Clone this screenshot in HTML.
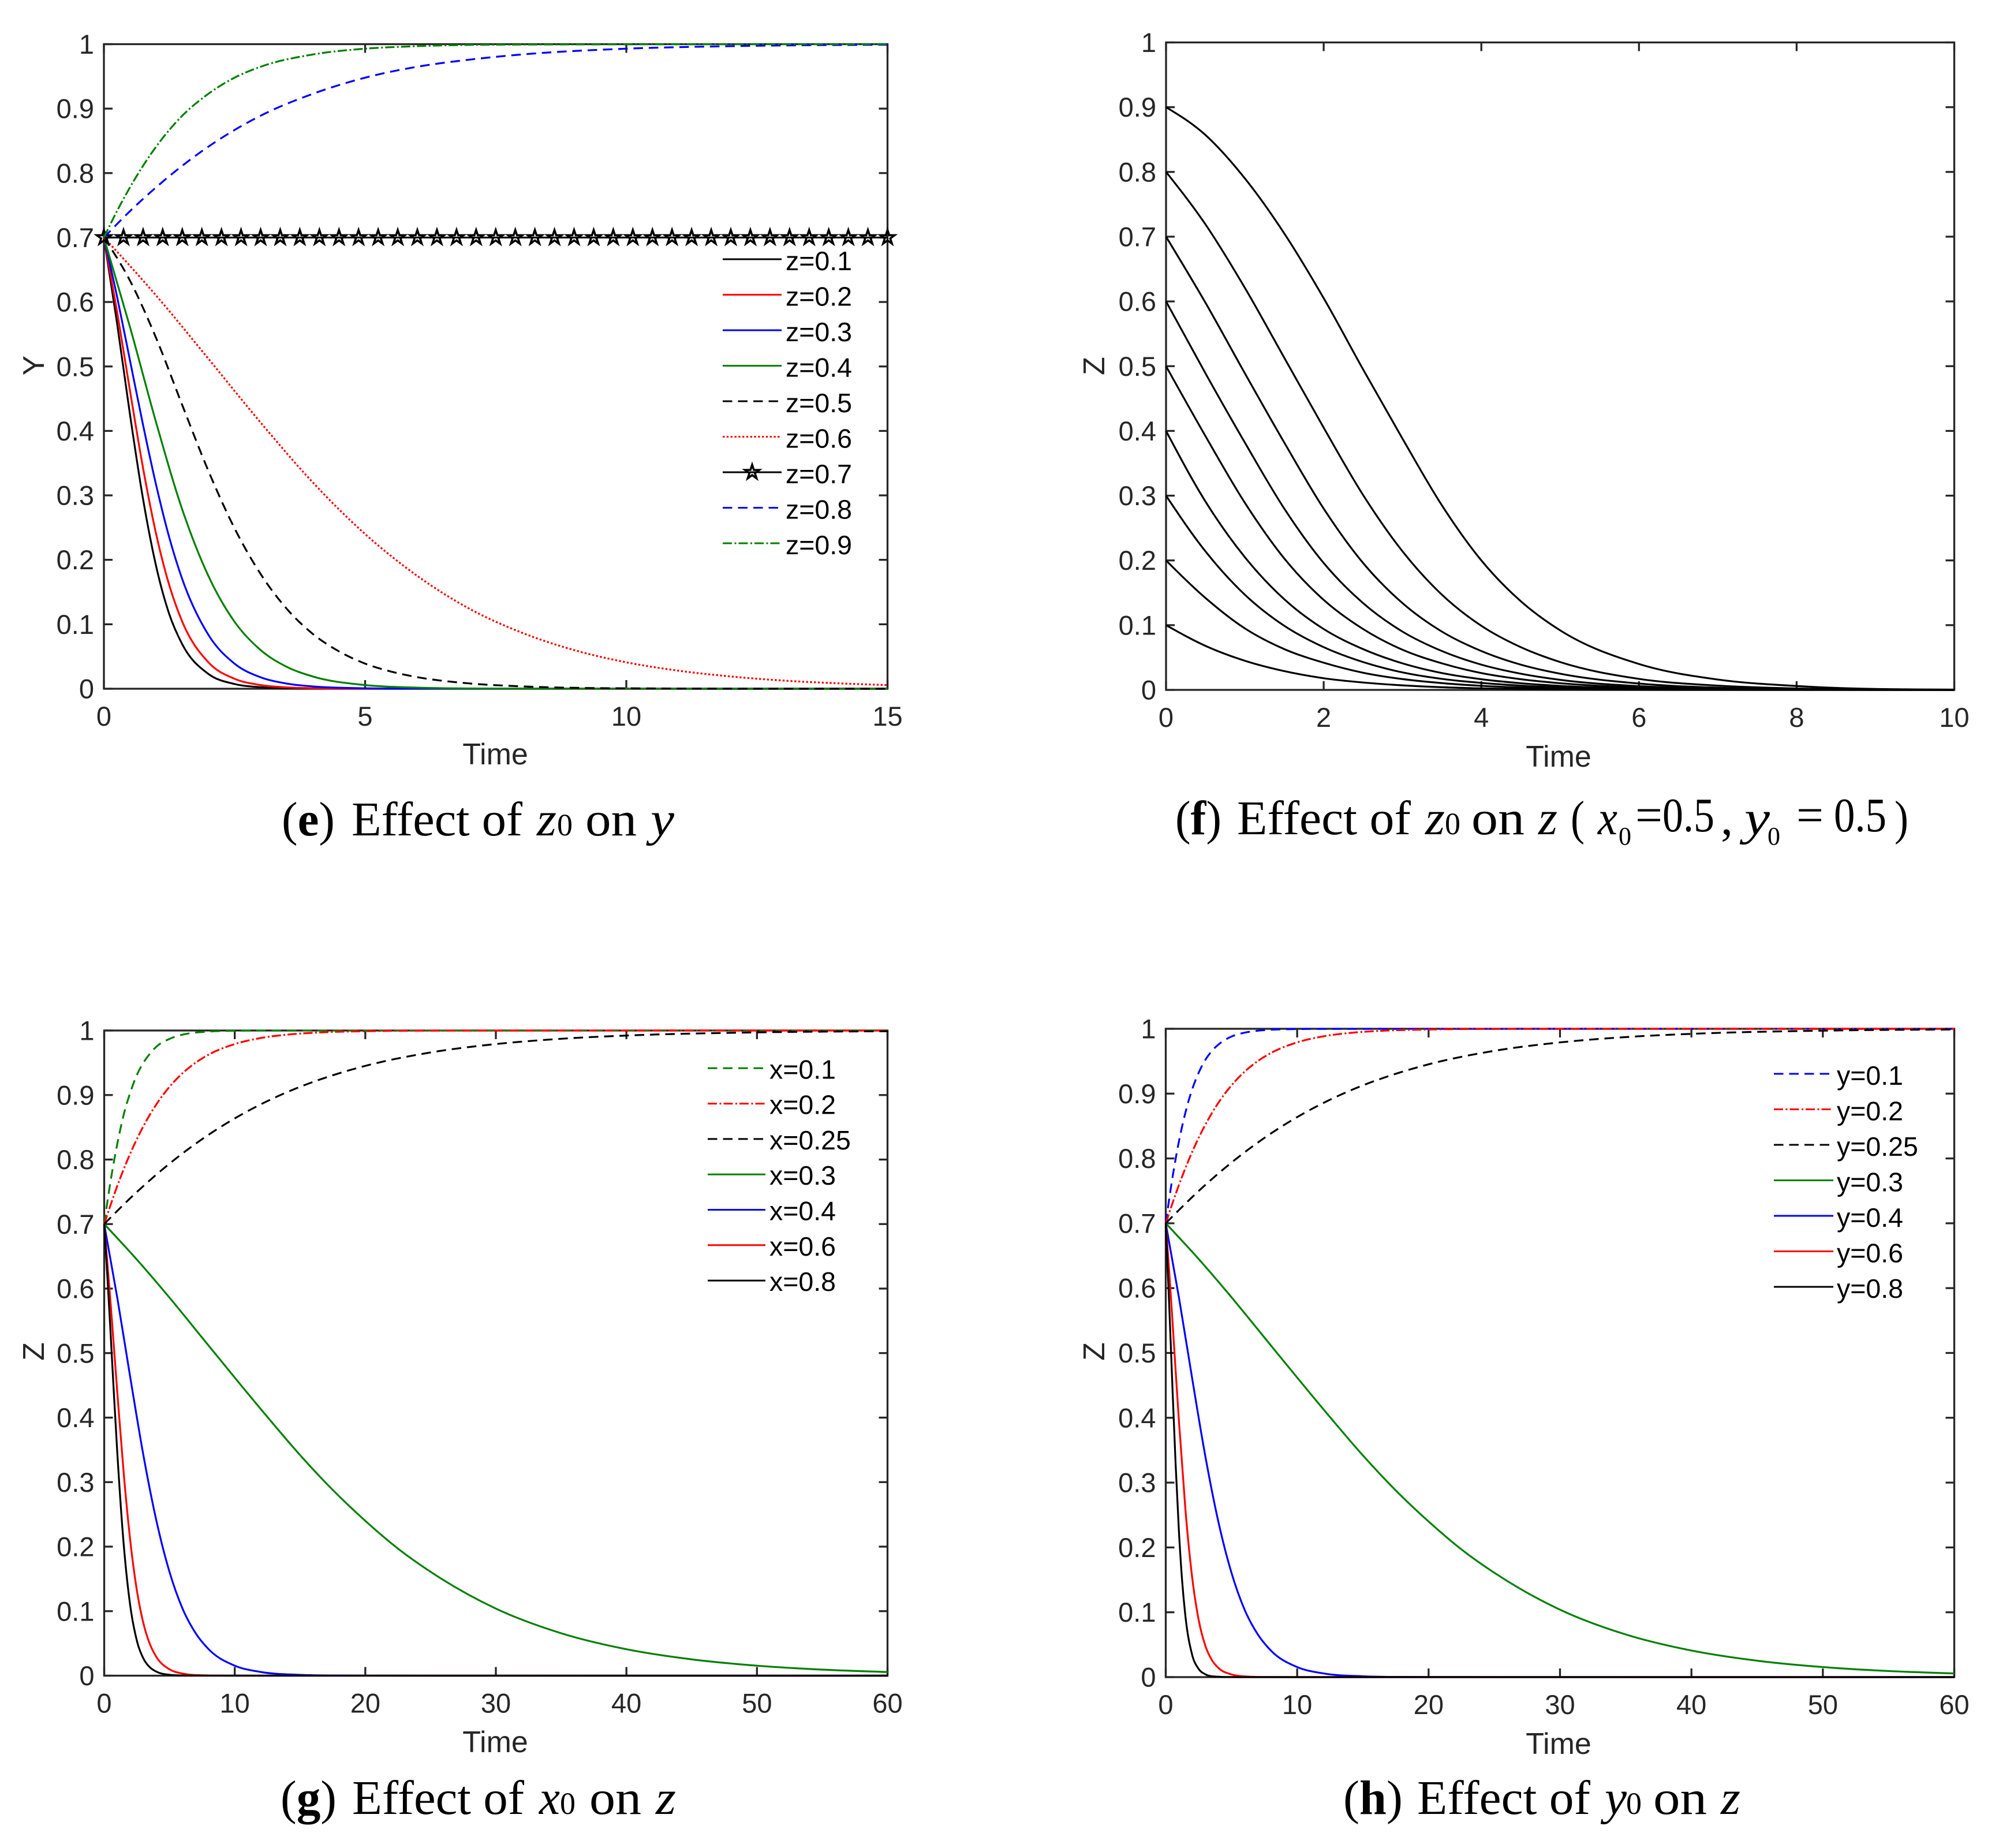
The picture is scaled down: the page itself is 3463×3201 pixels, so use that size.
<!DOCTYPE html>
<html lang="en">
<head>
<meta charset="utf-8">
<title>Effect of initial values on evolution curves</title>
<style>
html,body{margin:0;padding:0;background:#fff;}
svg{display:block;}
text{font-family:"Liberation Sans",Arial,sans-serif;}
.cap text{font-family:"Liberation Serif","Times New Roman",serif;font-size:84px;fill:#000;}
.cap .it{font-style:italic;}
.cap .b{font-weight:bold;}
.cap .s{font-size:54px;}
</style>
</head>
<body>
<svg id="fig" xmlns="http://www.w3.org/2000/svg" width="3463" height="3201" viewBox="0 0 3463 3201">
<rect width="3463" height="3201" fill="#fff"/>
<g class="cap">
<text x="488" y="1447" textLength="92" lengthAdjust="spacingAndGlyphs">(<tspan class="b">e</tspan>)</text>
<text x="609" y="1447" textLength="296" lengthAdjust="spacingAndGlyphs">Effect of</text>
<text x="930" y="1447" class="it" textLength="34" lengthAdjust="spacingAndGlyphs">z</text>
<text x="965" y="1447" class="s">0</text>
<text x="1014" y="1447" textLength="89" lengthAdjust="spacingAndGlyphs">on</text>
<text x="1127" y="1447" class="it" textLength="41" lengthAdjust="spacingAndGlyphs">y</text>
</g>
<g class="cap">
<text x="2036" y="1445" textLength="80" lengthAdjust="spacingAndGlyphs">(<tspan class="b">f</tspan>)</text>
<text x="2143" y="1445" textLength="301" lengthAdjust="spacingAndGlyphs">Effect of</text>
<text x="2469" y="1445" class="it" textLength="34" lengthAdjust="spacingAndGlyphs">z</text>
<text x="2503" y="1445" class="s">0</text>
<text x="2549" y="1445" textLength="92" lengthAdjust="spacingAndGlyphs">on</text>
<text x="2665" y="1445" class="it" textLength="33" lengthAdjust="spacingAndGlyphs">z</text>
<text x="2721" y="1445" textLength="24" lengthAdjust="spacingAndGlyphs">(</text>
<text x="2768" y="1445" class="it" textLength="34" lengthAdjust="spacingAndGlyphs">x</text>
<text x="2804" y="1463" style="font-size:44px">0</text>
<text x="2833" y="1440" textLength="47" lengthAdjust="spacingAndGlyphs">=</text>
<text x="2880" y="1440" textLength="90" lengthAdjust="spacingAndGlyphs">0.5</text>
<text x="2981" y="1445">,</text>
<text x="3022" y="1445" class="it" textLength="44" lengthAdjust="spacingAndGlyphs">y</text>
<text x="3062" y="1463" style="font-size:44px">0</text>
<text x="3112" y="1440" textLength="47" lengthAdjust="spacingAndGlyphs">=</text>
<text x="3177" y="1440" textLength="91" lengthAdjust="spacingAndGlyphs">0.5</text>
<text x="3282" y="1445" textLength="24" lengthAdjust="spacingAndGlyphs">)</text>
</g>
<g class="cap">
<text x="486" y="3142" textLength="97" lengthAdjust="spacingAndGlyphs">(<tspan class="b">g</tspan>)</text>
<text x="610" y="3142" textLength="298" lengthAdjust="spacingAndGlyphs">Effect of</text>
<text x="934" y="3142" class="it" textLength="36" lengthAdjust="spacingAndGlyphs">x</text>
<text x="970" y="3142" class="s">0</text>
<text x="1021" y="3142" textLength="90" lengthAdjust="spacingAndGlyphs">on</text>
<text x="1136" y="3142" class="it" textLength="35" lengthAdjust="spacingAndGlyphs">z</text>
</g>
<g class="cap">
<text x="2327" y="3142" textLength="103" lengthAdjust="spacingAndGlyphs">(<tspan class="b">h</tspan>)</text>
<text x="2455" y="3142" textLength="300" lengthAdjust="spacingAndGlyphs">Effect of</text>
<text x="2780" y="3142" class="it" textLength="38" lengthAdjust="spacingAndGlyphs">y</text>
<text x="2817" y="3142" class="s">0</text>
<text x="2864" y="3142" textLength="93" lengthAdjust="spacingAndGlyphs">on</text>
<text x="2981" y="3142" class="it" textLength="34" lengthAdjust="spacingAndGlyphs">z</text>
</g>
</svg>
<script>
// ---------- shared tick data ----------
const yTickValues = [0,0.1,0.2,0.3,0.4,0.5,0.6,0.7,0.8,0.9,1];
const yTickLabels = ["0","0.1","0.2","0.3","0.4","0.5","0.6","0.7","0.8","0.9","1"];
const xTicksE = [0,5,10,15];
const xTicksF = [0,2,4,6,8,10];
const xTicksG = [0,10,20,30,40,50,60];
const xTicksH = [0,10,20,30,40,50,60];

// ---------- panel e : effect of z0 on y ----------
const eTimeZ1 = [0,0.25,0.5,0.75,1,1.25,1.5,2,2.5,3,3.5,4,5,15];
const eValZ1  = [0.7,0.568,0.425,0.294,0.19,0.116,0.069,0.023,0.0074,0.0024,0.0008,0.00025,0,0];
const eTimeZ2 = [0,0.25,0.5,0.75,1,1.25,1.5,2,2.5,3,3.5,4,5,15];
const eValZ2  = [0.7,0.586,0.462,0.342,0.24,0.161,0.104,0.041,0.0155,0.0057,0.0021,0.0008,0.0001,0];
const eTimeZ3 = [0,0.25,0.5,0.75,1,1.25,1.5,2,2.5,3,3.5,4,5,6,15];
const eValZ3  = [0.7,0.609,0.509,0.409,0.316,0.235,0.17,0.0837,0.039,0.0178,0.008,0.0036,0.0007,0.0001,0];
const eTimeZ4 = [0,0.5,1,1.5,2,2.5,3,3.5,4,5,6,7,8,15];
const eValZ4  = [0.7,0.561,0.413,0.278,0.175,0.104,0.06,0.034,0.019,0.0057,0.0017,0.0005,0.0002,0];
const eTimeZ5 = [0,0.5,1,1.5,2,2.5,3,3.5,4,4.5,5,5.5,6,7,8,10,15];
const eValZ5  = [0.7,0.633,0.544,0.44,0.338,0.249,0.178,0.124,0.085,0.058,0.039,0.0266,0.018,0.0082,0.0037,0.0007,0];
const eTimeZ6 = [0,0.5,1,2,3,4,5,6,7,8,9,10,11,12,13,14,15];
const eValZ6  = [0.7,0.656,0.61,0.512,0.413,0.32,0.24,0.175,0.124,0.087,0.06,0.041,0.028,0.019,0.0127,0.0086,0.0057];
const eTimeZ7 = [0,0.375,0.75,1.125,1.5,1.875,2.25,2.625,3,3.375,3.75,4.125,4.5,4.875,5.25,5.625,6,6.375,6.75,7.125,7.5,7.875,8.25,8.625,9,9.375,9.75,10.125,10.5,10.875,11.25,11.625,12,12.375,12.75,13.125,13.5,13.875,14.25,14.625,15];
const eValZ7  = [0.7,0.7,0.7,0.7,0.7,0.7,0.7,0.7,0.7,0.7,0.7,0.7,0.7,0.7,0.7,0.7,0.7,0.7,0.7,0.7,0.7,0.7,0.7,0.7,0.7,0.7,0.7,0.7,0.7,0.7,0.7,0.7,0.7,0.7,0.7,0.7,0.7,0.7,0.7,0.7,0.7];
const eTimeZ8 = [0,0.5,1,2,3,4,5,6,7,8,10,12,15];
const eValZ8  = [0.7,0.741,0.778,0.841,0.889,0.923,0.948,0.965,0.976,0.984,0.993,0.9969,0.9991];
const eTimeZ9 = [0,0.25,0.5,1,1.5,2,2.5,3,4,5,6,8,15];
const eValZ9  = [0.7,0.741,0.778,0.841,0.889,0.923,0.948,0.965,0.984,0.993,0.9969,0.9994,1];
const legendLabelsE = ["z=0.1","z=0.2","z=0.3","z=0.4","z=0.5","z=0.6","z=0.7","z=0.8","z=0.9"];

// ---------- panel f : effect of z0 on z ----------
const fTime = [0,0.5,1,1.5,2,2.5,3,3.5,4,4.5,5,6,7,8,10];
const fValZ9 = [0.9,0.857,0.79,0.705,0.605,0.495,0.388,0.285,0.2,0.137,0.092,0.04,0.016,0.006,0.0005];
const fValZ8 = [0.8,0.719,0.621,0.513,0.405,0.301,0.214,0.147,0.099,0.066,0.043,0.017,0.0066,0.0022,0.0001];
const fValZ7 = [0.7,0.598,0.489,0.382,0.28,0.196,0.134,0.09,0.06,0.039,0.025,0.0098,0.0034,0.001,0];
const fValZ6 = [0.6,0.489,0.382,0.28,0.196,0.134,0.09,0.06,0.039,0.025,0.0155,0.0058,0.0019,0.0005,0];
const fValZ5 = [0.5,0.392,0.289,0.203,0.139,0.094,0.062,0.041,0.026,0.0165,0.0103,0.0036,0.0012,0.0003,0];
const fValZ4 = [0.4,0.291,0.205,0.14,0.094,0.063,0.041,0.026,0.0165,0.0103,0.0062,0.0021,0.0007,0.0002,0];
const fValZ3 = [0.3,0.214,0.147,0.099,0.066,0.043,0.027,0.017,0.0108,0.0066,0.0039,0.0012,0.0004,0.0001,0];
const fValZ2 = [0.2,0.142,0.095,0.063,0.042,0.0265,0.0167,0.0105,0.0063,0.0037,0.0021,0.0006,0.0001,0,0];
const fValZ1 = [0.1,0.068,0.045,0.029,0.018,0.0114,0.007,0.0041,0.0024,0.0013,0.0007,0.0001,0,0,0];

// ---------- panel g : effect of x0 on z ----------
const gTimeX1 = [0,0.5,1,1.5,2,2.5,3,3.5,4,5,6,7,8,10,12,60];
const gValX1  = [0.7,0.768,0.824,0.87,0.904,0.931,0.95,0.964,0.975,0.987,0.9936,0.9968,0.9984,0.9996,0.9999,1];
const gTimeX2 = [0,1,2,3,4,5,6,7,8,10,12,14,17,20,25,60];
const gValX2  = [0.7,0.759,0.8096,0.8516,0.8857,0.9127,0.9338,0.9501,0.9626,0.979,0.9884,0.9936,0.9974,0.9989,0.9998,1];
const gTimeX25 = [0,2.5,5,7.5,10,12.5,15,17.5,20,25,30,35,40,50,60];
const gValX25  = [0.7,0.7497,0.7936,0.8316,0.8638,0.8906,0.9127,0.9306,0.9452,0.966,0.979,0.9872,0.9922,0.9971,0.9989];
const gTimeX3 = [0,2.5,5,7.5,10,12.5,15,17.5,20,22.5,25,30,35,40,45,50,55,60];
const gValX3  = [0.7,0.645,0.586,0.524,0.462,0.401,0.342,0.288,0.24,0.197,0.161,0.104,0.0658,0.041,0.0253,0.0155,0.0094,0.0057];
const gTimeX4 = [0,1,2,3,4,5,6,7,8,10,12,15,18,20,60];
const gValX4  = [0.7,0.586,0.462,0.342,0.24,0.161,0.104,0.066,0.041,0.0155,0.0057,0.0013,0.0003,0.0001,0];
const gTimeX6 = [0,0.5,1,1.5,2,2.5,3,3.5,4,5,6,8,10,60];
const gValX6  = [0.7,0.575,0.44,0.3126,0.2087,0.1327,0.0814,0.0489,0.0289,0.0099,0.0033,0.0004,0,0];
const gTimeX8 = [0,0.25,0.5,0.75,1,1.5,2,2.5,3,3.5,4,5,6,7,60];
const gValX8  = [0.7,0.617,0.527,0.4346,0.3468,0.2021,0.1078,0.0545,0.0268,0.013,0.0062,0.0014,0.0003,0.0001,0];
const legendLabelsG = ["x=0.1","x=0.2","x=0.25","x=0.3","x=0.4","x=0.6","x=0.8"];

// ---------- panel h : effect of y0 on z ----------
const hTimeY1 = [0,0.5,1,1.5,2,2.5,3,3.5,4,5,6,7,8,10,12,60];
const hValY1  = [0.7,0.769,0.826,0.871,0.906,0.932,0.9516,0.9655,0.9756,0.988,0.994,0.997,0.9985,0.9996,0.9999,1];
const hTimeY2 = [0,1,2,3,4,5,6,7,8,10,12,14,17,20,25,60];
const hValY2  = [0.7,0.759,0.8096,0.8516,0.8857,0.9127,0.9338,0.9501,0.9626,0.979,0.9884,0.9936,0.9974,0.9989,0.9998,1];
const hTimeY25 = [0,2.5,5,7.5,10,12.5,15,17.5,20,25,30,35,40,50,60];
const hValY25  = [0.7,0.7497,0.7936,0.8316,0.8638,0.8906,0.9127,0.9306,0.9452,0.966,0.979,0.9872,0.9922,0.9971,0.9989];
const hTimeY3 = [0,2.5,5,7.5,10,12.5,15,17.5,20,22.5,25,30,35,40,45,50,55,60];
const hValY3  = [0.7,0.645,0.586,0.524,0.462,0.401,0.342,0.288,0.24,0.197,0.161,0.104,0.0658,0.041,0.0253,0.0155,0.0094,0.0057];
const hTimeY4 = [0,1,2,3,4,5,6,7,8,10,12,15,18,20,60];
const hValY4  = [0.7,0.586,0.462,0.342,0.24,0.161,0.104,0.066,0.041,0.0155,0.0057,0.0013,0.0003,0.0001,0];
const hTimeY6 = [0,0.25,0.5,0.75,1,1.5,2,2.5,3,3.5,4,5,6,8,10,60];
const hValY6  = [0.7,0.6295,0.5528,0.4735,0.3958,0.2577,0.1554,0.0888,0.0491,0.0266,0.0143,0.0041,0.0011,0.0001,0,0];
const hTimeY8 = [0,0.25,0.5,0.75,1,1.25,1.5,2,2.5,3,4,5,6,60];
const hValY8  = [0.7,0.581,0.4519,0.3289,0.2258,0.1477,0.0934,0.0351,0.0127,0.0045,0.0006,0.0001,0,0];
const legendLabelsH = ["y=0.1","y=0.2","y=0.25","y=0.3","y=0.4","y=0.6","y=0.8"];

// ---------- styling ----------
const RED = "#ff0000", BLUE = "#0000ff", GREEN = "#008000", BLACK = "#000000";
const DASH = "16.5 10", DOT = "3.4 3.4", DASHDOT = "16 4.5 3 4", SOLID = "";
const AXIS_COLOR = "#262626";
const NS = "http://www.w3.org/2000/svg";
const fig = document.getElementById("fig");

function make(tag, attrs, parent) {
  const el = document.createElementNS(NS, tag);
  for (const k in attrs) el.setAttribute(k, attrs[k]);
  parent.appendChild(el);
  return el;
}

// smooth, shape-preserving cubic path through pixel points
function smoothPath(xs, ys) {
  const n = xs.length;
  if (n < 2) return "";
  const s = [], m = [];
  for (let i = 0; i < n - 1; i++) s.push((ys[i + 1] - ys[i]) / ((xs[i + 1] - xs[i]) || 1));
  for (let i = 1; i < n - 1; i++) {
    if (s[i - 1] * s[i] <= 0) { m[i] = 0; continue; }
    const h0 = xs[i] - xs[i - 1], h1 = xs[i + 1] - xs[i];
    let t = (h1 * s[i - 1] + h0 * s[i]) / (h0 + h1);
    const lim = 3 * Math.min(Math.abs(s[i - 1]), Math.abs(s[i]));
    if (Math.abs(t) > lim) t = Math.sign(t) * lim;
    m[i] = t;
  }
  m[0] = n > 2 ? 1.5 * s[0] - 0.5 * m[1] : s[0];
  if (m[0] * s[0] < 0) m[0] = 0;
  m[n - 1] = n > 2 ? 1.5 * s[n - 2] - 0.5 * m[n - 2] : s[n - 2];
  if (m[n - 1] * s[n - 2] < 0) m[n - 1] = 0;
  let d = "M" + xs[0].toFixed(2) + " " + ys[0].toFixed(2);
  for (let i = 0; i < n - 1; i++) {
    const h = (xs[i + 1] - xs[i]) / 3;
    d += "C" + (xs[i] + h).toFixed(2) + " " + (ys[i] + m[i] * h).toFixed(2) + " " +
         (xs[i + 1] - h).toFixed(2) + " " + (ys[i + 1] - m[i + 1] * h).toFixed(2) + " " +
         xs[i + 1].toFixed(2) + " " + ys[i + 1].toFixed(2);
  }
  return d;
}

function starPoints(cx, cy, R, r) {
  const pts = [];
  for (let i = 0; i < 10; i++) {
    const a = -Math.PI / 2 + i * Math.PI / 5, q = i % 2 ? r : R;
    pts.push((cx + q * Math.cos(a)).toFixed(2) + "," + (cy + q * Math.sin(a)).toFixed(2));
  }
  return pts.join(" ");
}

function drawStar(parent, cx, cy) {
  const star = make("polygon", {points: starPoints(cx, cy, 13, 5), fill: "none", stroke: BLACK, "stroke-width": 3.6, "stroke-linejoin": "miter"}, parent);
  
  
}

function drawPanel(p) {
  const panel = make("g", {}, fig);
  
  

  const xScale = t => p.left + (t - p.xMin) / (p.xMax - p.xMin) * (p.right - p.left);
  const yScale = v => p.bottom - v * (p.bottom - p.top);

  const axes = make("rect", {x: p.left, y: p.top, width: p.right - p.left, height: p.bottom - p.top, fill: "none", stroke: AXIS_COLOR, "stroke-width": 3.3}, panel);
  
  

  const tickLen = 15;
  yTickValues.forEach((v, i) => {
    const y = yScale(v);
    const tl = make("line", {x1: p.left, x2: p.left + tickLen, y1: y, y2: y, stroke: AXIS_COLOR, "stroke-width": 3.3}, panel);
    
    
    const tr = make("line", {x1: p.right, x2: p.right - tickLen, y1: y, y2: y, stroke: AXIS_COLOR, "stroke-width": 3.3}, panel);
    
    
    const lab = make("text", {x: p.left - 17, y: y + 16.5, "text-anchor": "end", "font-size": 47, fill: AXIS_COLOR}, panel);
    
    
    lab.textContent = yTickLabels[i];
  });
  p.xTicks.forEach(t => {
    const x = xScale(t);
    const tb = make("line", {x1: x, x2: x, y1: p.bottom, y2: p.bottom - tickLen, stroke: AXIS_COLOR, "stroke-width": 3.3}, panel);
    
    
    const tt = make("line", {x1: x, x2: x, y1: p.top, y2: p.top + tickLen, stroke: AXIS_COLOR, "stroke-width": 3.3}, panel);
    
    
    const lab = make("text", {x: x, y: p.bottom + 64, "text-anchor": "middle", "font-size": 47, fill: AXIS_COLOR}, panel);
    
    
    lab.textContent = String(t);
  });

  const xt = make("text", {x: p.xTitleX, y: p.xTitleY, "text-anchor": "middle", "font-size": 52, fill: AXIS_COLOR}, panel);
  
  
  xt.textContent = "Time";

  const yt = make("text", {x: 0, y: 0, "text-anchor": "middle", "font-size": 52, fill: AXIS_COLOR, transform: "translate(" + p.yTitleX + " " + p.yTitleY + ") rotate(-90)"}, panel);
  
  
  yt.textContent = p.yTitle;

  p.series.forEach(s => {
    const path = make("path", {
      d: smoothPath(s.t.map(xScale), s.v.map(yScale)),
      fill: "none", stroke: s.color, "stroke-width": 3.2, "stroke-linejoin": "round"
    }, panel);
    
    
    if (s.dash) path.setAttribute("stroke-dasharray", s.dash);
    if (s.star) s.t.forEach((t, i) => drawStar(panel, xScale(t), yScale(s.v[i])));
  });

  if (p.legend) {
    const L = p.legend;
    const leg = make("g", {}, panel);
    
    
    p.series.forEach((s, i) => {
      const y = L.y0 + i * L.dy;
      const ent = make("g", {}, leg);
      
      
      const ln = make("line", {x1: L.x1, x2: L.x2, y1: y, y2: y, stroke: s.color, "stroke-width": 3}, ent);
      
      
      if (s.dash) ln.setAttribute("stroke-dasharray", s.dash);
      if (s.star) drawStar(ent, (L.x1 + L.x2) / 2, y);
      const tx = make("text", {x: L.tx, y: y + L.base, "font-size": L.size, fill: BLACK}, ent);
      
      
      tx.textContent = L.labels[i];
    });
  }
}

drawPanel({
  id: "panel-e", left: 180, right: 1537.5, top: 76.5, bottom: 1193, xMin: 0, xMax: 15, xTicks: xTicksE,
  xTitleX: 858, xTitleY: 1324, yTitleX: 76, yTitleY: 633, yTitle: "Y",
  legend: {x1: 1252, x2: 1354, tx: 1361, y0: 449, dy: 61.5, base: 19, size: 46.5, labels: legendLabelsE},
  series: [
    {t: eTimeZ1, v: eValZ1, color: BLACK, dash: SOLID},
    {t: eTimeZ2, v: eValZ2, color: RED, dash: SOLID},
    {t: eTimeZ3, v: eValZ3, color: BLUE, dash: SOLID},
    {t: eTimeZ4, v: eValZ4, color: GREEN, dash: SOLID},
    {t: eTimeZ5, v: eValZ5, color: BLACK, dash: DASH},
    {t: eTimeZ6, v: eValZ6, color: RED, dash: DOT},
    {t: eTimeZ7, v: eValZ7, color: BLACK, dash: SOLID, star: true},
    {t: eTimeZ8, v: eValZ8, color: BLUE, dash: DASH},
    {t: eTimeZ9, v: eValZ9, color: GREEN, dash: DASHDOT}
  ]
});

drawPanel({
  id: "panel-f", left: 2020, right: 3385.5, top: 73.5, bottom: 1195, xMin: 0, xMax: 10, xTicks: xTicksF,
  xTitleX: 2700, xTitleY: 1328, yTitleX: 1913, yTitleY: 634, yTitle: "Z",
  series: [
    {t: fTime, v: fValZ1, color: BLACK, dash: SOLID},
    {t: fTime, v: fValZ2, color: BLACK, dash: SOLID},
    {t: fTime, v: fValZ3, color: BLACK, dash: SOLID},
    {t: fTime, v: fValZ4, color: BLACK, dash: SOLID},
    {t: fTime, v: fValZ5, color: BLACK, dash: SOLID},
    {t: fTime, v: fValZ6, color: BLACK, dash: SOLID},
    {t: fTime, v: fValZ7, color: BLACK, dash: SOLID},
    {t: fTime, v: fValZ8, color: BLACK, dash: SOLID},
    {t: fTime, v: fValZ9, color: BLACK, dash: SOLID}
  ]
});

drawPanel({
  id: "panel-g", left: 180.5, right: 1537.5, top: 1785, bottom: 2902.5, xMin: 0, xMax: 60, xTicks: xTicksG,
  xTitleX: 858, xTitleY: 3035, yTitleX: 76, yTitleY: 2341, yTitle: "Z",
  legend: {x1: 1226, x2: 1326, tx: 1333, y0: 1850.3, dy: 61.3, base: 18, size: 46.5, labels: legendLabelsG},
  series: [
    {t: gTimeX1, v: gValX1, color: GREEN, dash: DASH},
    {t: gTimeX2, v: gValX2, color: RED, dash: DASHDOT},
    {t: gTimeX25, v: gValX25, color: BLACK, dash: DASH},
    {t: gTimeX3, v: gValX3, color: GREEN, dash: SOLID},
    {t: gTimeX4, v: gValX4, color: BLUE, dash: SOLID},
    {t: gTimeX6, v: gValX6, color: RED, dash: SOLID},
    {t: gTimeX8, v: gValX8, color: BLACK, dash: SOLID}
  ]
});

drawPanel({
  id: "panel-h", left: 2019.5, right: 3385.5, top: 1782, bottom: 2905, xMin: 0, xMax: 60, xTicks: xTicksH,
  xTitleX: 2700, xTitleY: 3038, yTitleX: 1913, yTitleY: 2341, yTitle: "Z",
  legend: {x1: 3073, x2: 3176, tx: 3182, y0: 1860, dy: 61.5, base: 19, size: 46.5, labels: legendLabelsH},
  series: [
    {t: hTimeY1, v: hValY1, color: BLUE, dash: DASH},
    {t: hTimeY2, v: hValY2, color: RED, dash: DASHDOT},
    {t: hTimeY25, v: hValY25, color: BLACK, dash: DASH},
    {t: hTimeY3, v: hValY3, color: GREEN, dash: SOLID},
    {t: hTimeY4, v: hValY4, color: BLUE, dash: SOLID},
    {t: hTimeY6, v: hValY6, color: RED, dash: SOLID},
    {t: hTimeY8, v: hValY8, color: BLACK, dash: SOLID}
  ]
});
</script>
</body>
</html>
